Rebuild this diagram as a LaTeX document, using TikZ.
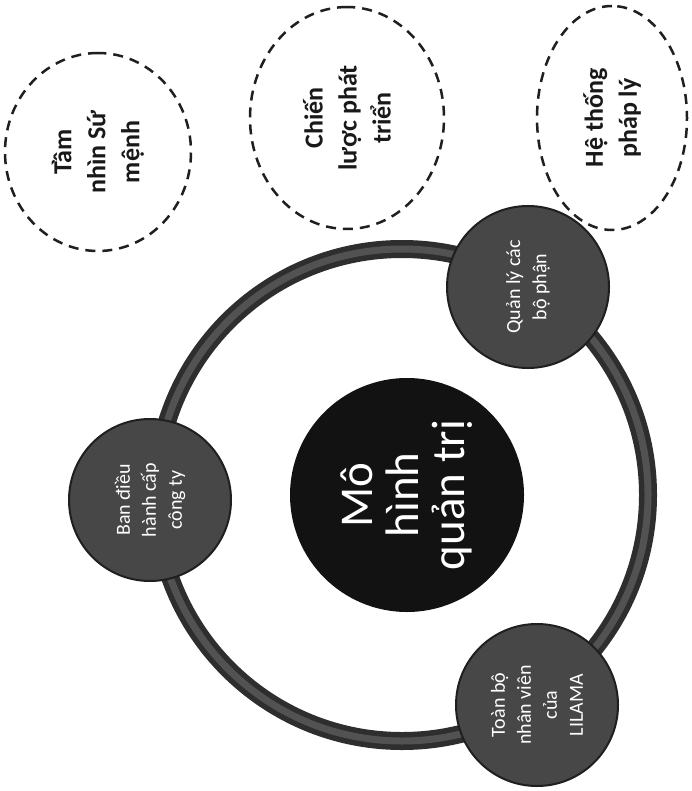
\documentclass[tikz,border=0pt]{standalone}
\usepackage{fontspec}
\setmainfont{Carlito}
\usetikzlibrary{shapes.geometric}

\tikzset{
  goal/.style={ellipse, draw=black!88, line width=2.5pt, dash pattern=on 10pt off 7pt,
    inner sep=0pt, rotate=90, align=center, text=black!90,
    font=\bfseries\fontsize{26}{34}\selectfont},
  unit/.style={circle, fill=black!72, draw=black!88, line width=2pt, minimum size=162pt,
    inner sep=0pt, rotate=90, align=center, text=white,
    font=\fontsize{20}{26}\selectfont},
  core/.style={circle, fill=black!93, minimum size=234pt, inner sep=0pt, rotate=90,
    align=center, text=white, font=\fontsize{47}{46}\selectfont}
}

\begin{document}
\begin{tikzpicture}[x=1pt,y=-1pt]

\fill[white] (0,0) rectangle (692,791);
\useasboundingbox (0,0) rectangle (692,791);

\node[goal, minimum width=198pt, minimum height=186pt] at (98,152) (vision) {Tầm\\nhìn Sứ\\mệnh};
\node[goal, minimum width=222pt, minimum height=194pt] at (347,118) (strategy) {Chiến\\lược phát\\triển};
\node[goal, minimum width=224pt, minimum height=150pt] at (612,118) (legal) {Hệ thống\\pháp lý};

\coordinate (hub) at (402,495);
\draw[line width=18pt, black!82] (hub) circle (246);
\draw[line width=7pt, black!68] (hub) circle (246);

\node[core] at (407,495) (model) {Mô\\hình\\quản trị};

\node[unit] at (150,500) (board) {Ban điều\\hành cấp\\công ty};
\node[unit] at (528,287) (dept) {Quản lý các\\bộ phận};
\node[unit] at (537,705) (staff) {Toàn bộ\\nhân viên\\của\\LILAMA};

\end{tikzpicture}
\end{document}
